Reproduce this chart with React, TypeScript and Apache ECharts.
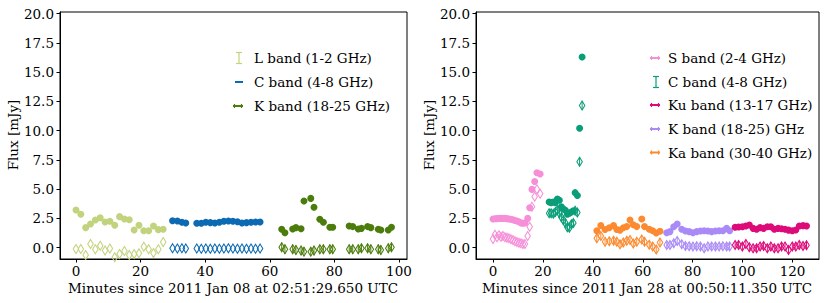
import React, { useEffect, useRef } from "react";
import * as echarts from "echarts";

// ---------- Left panel: 2011 Jan 08 ----------
const L_MIN = [0, 1.5, 3, 4.5, 6, 7.5, 9, 10.5, 12, 13.5, 15, 16.5, 18, 19.5, 21, 22.5, 24, 25.5, 27];
const L_FLUX = [3.22, 2.85, 1.71, 2.02, 2.36, 2.56, 2.19, 2.25, 1.91, 2.65, 2.45, 2.39, 1.51, 1.91, 1.45, 1.45, 1.85, 1.54, 1.57];
const L_FLUX_D = [-0.11, -0.11, -0.62, 0.32, -0.14, 0.17, -0.25, -0.08, -0.82, -0.54, -0.28, -0.62, -0.54, -0.48, 0.08, -0.14, -0.45, -0.14, 0.48];

const C_MIN = [29.9, 31.4, 32.8, 34.0, 37.4, 38.8, 40.2, 41.6, 43.0, 44.4, 45.8, 47.2, 48.6, 50.0, 51.4, 52.8, 54.2, 55.6, 57.0];
const C_FLUX = [2.3, 2.28, 2.17, 2.1, 2.08, 2.08, 2.17, 2.14, 2.11, 2.17, 2.25, 2.28, 2.25, 2.22, 2.11, 2.14, 2.17, 2.19, 2.19];
const C_FLUX_D = [-0.05, -0.08, -0.05, -0.08, -0.08, -0.1, -0.08, -0.1, -0.08, -0.1, -0.08, -0.05, -0.08, -0.1, -0.08, -0.1, -0.08, -0.1, -0.08];

const K_MIN = [63.7, 64.7, 67.1, 68.1, 69.7, 70.6, 72.7, 73.7, 75.5, 76.6, 78.6, 79.5, 84.6, 85.7, 87.4, 88.4, 90.3, 91.3, 93.6, 94.4, 96.7, 97.7];
const K_FLUX = [1.57, 1.28, 1.6, 1.71, 1.62, 3.98, 4.21, 3.45, 2.42, 2.17, 1.74, 1.74, 1.85, 1.8, 1.6, 1.65, 1.8, 1.71, 1.57, 1.51, 1.51, 1.74];
const K_FLUX_D = [0.03, -0.14, -0.14, -0.2, -0.25, -0.34, -0.34, -0.25, -0.14, -0.14, -0.14, -0.14, -0.14, -0.14, -0.14, -0.05, -0.05, -0.14, -0.14, -0.2, -0.05, 0.03];

// ---------- Right panel: 2011 Jan 28 ----------
const S_MIN = [0, 0.8, 1.6, 2.4, 3.2, 4.0, 4.8, 5.6, 6.4, 7.2, 8.0, 8.8, 9.6, 10.4, 11.2, 12.0, 12.8, 13.9, 14.7, 15.6, 16.7, 17.6, 18.9];
const S_FLUX = [2.45, 2.47, 2.48, 2.5, 2.5, 2.5, 2.52, 2.48, 2.45, 2.42, 2.38, 2.32, 2.28, 2.22, 2.12, 2.08, 2.1, 2.5, 3.41, 4.98, 5.66, 6.4, 6.29];
const S_FLUX_D = [0.74, 1.1, 0.89, 1.05, 0.94, 1.0, 0.89, 0.85, 0.8, 0.72, 0.65, 0.55, 0.48, 0.42, 0.37, 0.32, 0.32, 1.0, 1.79, 3.5, 4.35, 5.0, 4.6];

const CR_MIN = [22.5, 23.3, 24.2, 25.0, 25.8, 26.6, 27.4, 28.2, 29.0, 29.8, 30.6, 31.4, 32.2, 32.9, 33.8, 34.7, 35.7];
const CR_FLUX = [3.9, 3.85, 3.9, 3.85, 4.15, 4.05, 3.5, 3.3, 3.2, 2.85, 2.95, 3.05, 3.15, 4.7, 4.45, 10.2, 16.3];
const CR_FLUX_D = [2.95, 2.95, 2.9, 3.05, 3.2, 2.95, 2.6, 2.35, 2.1, 1.75, 1.7, 2.0, 2.1, 3.15, 3.0, 7.35, 12.15];

const KA_MIN = [41.6, 43.2, 44.9, 46.6, 48.3, 49.6, 50.9, 52.2, 53.6, 54.9, 56.2, 57.6, 59.6, 60.7, 62.6, 64.0, 65.4, 66.9];
const KA_FLUX = [1.45, 1.9, 1.55, 1.7, 1.9, 1.55, 1.5, 1.7, 1.8, 2.36, 1.95, 1.8, 2.45, 1.8, 1.57, 1.45, 1.25, 1.4];
const KA_FLUX_D = [0.8, 1.0, 0.5, 0.55, 0.6, 0.5, 0.3, 0.45, 0.6, 0.65, 0.35, 0.5, 0.7, 0.5, 0.25, 0.1, -0.15, 0.45];

const KP_MIN = [69.6, 70.9, 72.4, 73.8, 75.6, 77.1, 78.6, 80.1, 81.6, 83.1, 84.6, 86.1, 87.6, 89.1, 90.6, 92.1, 93.6, 94.8];
const KP_FLUX = [1.28, 1.37, 1.79, 2.02, 1.57, 1.42, 1.37, 1.28, 1.37, 1.42, 1.45, 1.42, 1.37, 1.42, 1.45, 1.45, 1.65, 1.45];
const KP_FLUX_D = [0.23, 0.23, 0.37, 0.57, 0.3, 0.15, 0.12, 0.09, 0.12, 0.09, -0.05, 0.09, 0.09, 0.09, 0.09, 0.12, 0.09, 0.1];

const KU_MIN = [97.0, 98.4, 99.9, 101.3, 102.7, 104.2, 105.6, 107.0, 108.4, 109.9, 111.3, 112.7, 114.2, 115.6, 117.0, 118.4, 119.9, 121.3, 122.7, 124.2, 125.6];
const KU_FLUX = [1.74, 1.76, 1.79, 1.85, 1.93, 1.65, 1.57, 1.71, 1.65, 1.79, 1.79, 1.57, 1.65, 1.62, 1.57, 1.5, 1.45, 1.51, 1.85, 1.88, 1.85];
const KU_FLUX_D = [0.23, 0.23, 0.09, 0.32, 0.03, -0.05, -0.05, 0.09, 0.15, -0.05, 0.09, -0.05, -0.05, 0.09, 0.09, -0.2, 0.09, 0.09, 0.23, 0.15, 0.2];

// ---------- axes ----------
const Y_TICKS = [0, 2.5, 5, 7.5, 10, 12.5, 15, 17.5, 20];
const X_TICKS_LEFT = [0, 20, 40, 60, 80, 100];
const X_TICKS_RIGHT = [0, 20, 40, 60, 80, 100, 120];
const X_LABEL_LEFT = "Minutes since 2011 Jan 08 at 02:51:29.650 UTC";
const X_LABEL_RIGHT = "Minutes since 2011 Jan 28 at 00:50:11.350 UTC";
const Y_LABEL = "Flux [mJy]";
const LEGEND_LEFT = ["L band (1-2 GHz)", "C band (4-8 GHz)", "K band (18-25 GHz)"];
const LEGEND_RIGHT = ["S band (2-4 GHz)", "C band (4-8 GHz)", "Ku band (13-17 GHz)", "K band (18-25) GHz", "Ka band (30-40 GHz)"];

const COL = {
  L: "#c1d37c",
  C: "#0b6ab2",
  K: "#4c7d0c",
  S: "#f68fd8",
  CR: "#0a9e78",
  KU: "#dd0a7a",
  KP: "#a98af6",
  KA: "#fb8a30",
};

const FONT = "DejaVu Serif";
const FS = 13.5;

export default function App() {
  const ref = useRef<HTMLDivElement>(null);
  useEffect(() => {
    if (!ref.current) return;
    const chart = echarts.init(ref.current, undefined, { renderer: "svg" });

    const zip = (a: number[], b: number[]) => a.map((v, i) => [v, b[i]]);
    const filled = (ai: number, mins: number[], vals: number[], color: string) => ({
      type: "scatter",
      xAxisIndex: ai,
      yAxisIndex: ai,
      data: zip(mins, vals),
      symbol: "circle",
      symbolSize: 7,
      itemStyle: { color, opacity: 1 },
      z: 3,
      silent: true,
    });
    const hollow = (ai: number, mins: number[], vals: number[], color: string) => ({
      type: "scatter",
      xAxisIndex: ai,
      yAxisIndex: ai,
      data: zip(mins, vals),
      symbol: "diamond",
      symbolSize: [5.5, 9],
      itemStyle: { color: "rgba(255,255,255,0)", borderColor: color, borderWidth: 1.1, opacity: 1 },
      z: 3,
      silent: true,
    });
    const errbar = (ai: number, mins: number[], vals: number[], color: string, err: number) => ({
      type: "custom",
      xAxisIndex: ai,
      yAxisIndex: ai,
      data: mins.map((m, i) => [m, vals[i] - err, vals[i] + err]),
      encode: { x: 0, y: [1, 2] },
      renderItem: (_p: any, api: any) => {
        const lo = api.coord([api.value(0), api.value(1)]);
        const hi = api.coord([api.value(0), api.value(2)]);
        return {
          type: "line",
          shape: { x1: lo[0], y1: lo[1], x2: hi[0], y2: hi[1] },
          style: { stroke: color, lineWidth: 1 },
        };
      },
      z: 2,
      silent: true,
    });

    const xAxis = (gi: number, min: number, max: number, ticks: number[]) => ({
      type: "value",
      gridIndex: gi,
      min,
      max,
      splitLine: { show: false },
      axisLine: { show: true, onZero: false, lineStyle: { color: "#000", width: 1 } },
      axisTick: { show: true, length: 3.5, customValues: ticks, lineStyle: { color: "#000" } },
      axisLabel: { customValues: ticks, color: "#000", fontFamily: FONT, fontSize: FS, margin: 5 },
    });
    const yAxis = (gi: number) => ({
      type: "value",
      gridIndex: gi,
      min: -0.97,
      max: 20.14,
      splitLine: { show: false },
      axisLine: { show: true, onZero: false, lineStyle: { color: "#000", width: 1 } },
      axisTick: { show: true, length: 3.5, customValues: Y_TICKS, lineStyle: { color: "#000" } },
      axisLabel: {
        customValues: Y_TICKS,
        color: "#000",
        fontFamily: FONT,
        fontSize: FS,
        margin: 6,
        formatter: (v: number) => v.toFixed(1),
      },
    });

    const txt = (x: number, y: number, text: string, align = "left", rot = 0) => ({
      type: "text",
      x,
      y,
      rotation: rot,
      silent: true,
      style: {
        text,
        fill: "#000",
        font: `${FS}px "${FONT}"`,
        textAlign: align,
        textVerticalAlign: "middle",
        align,
        verticalAlign: "middle",
      },
    });
    const ln = (x1: number, y1: number, x2: number, y2: number, color: string, w = 1.2) => ({
      type: "line",
      silent: true,
      shape: { x1, y1, x2, y2 },
      style: { stroke: color, lineWidth: w },
    });
    // I-shaped (vertical bar with caps)
    const iIcon = (cx: number, cy: number, color: string, h: number) => [
      ln(cx, cy - h / 2, cx, cy + h / 2, color),
      ln(cx - 3, cy - h / 2, cx + 3, cy - h / 2, color),
      ln(cx - 3, cy + h / 2, cx + 3, cy + h / 2, color),
    ];
    // horizontal bar with small caps
    const hIcon = (cx: number, cy: number, color: string) => [
      ln(cx - 5, cy, cx + 5, cy, color, 2),
      ln(cx - 3.5, cy - 2, cx - 3.5, cy + 2, color, 1.2),
      ln(cx + 3.5, cy - 2, cx + 3.5, cy + 2, color, 1.2),
    ];

    const graphics: any[] = [
      txt(233, 288, X_LABEL_LEFT, "center"),
      txt(647, 288, X_LABEL_RIGHT, "center"),
      txt(13, 135, Y_LABEL, "center", Math.PI / 2),
      txt(429, 135, Y_LABEL, "center", Math.PI / 2),
      // left legend
      ...iIcon(239, 58, COL.L, 11),
      ln(235, 82, 243, 82, COL.C, 2),
      ...hIcon(238, 106, COL.K),
      txt(254, 58, LEGEND_LEFT[0]),
      txt(254, 82, LEGEND_LEFT[1]),
      txt(254, 106, LEGEND_LEFT[2]),
      // right legend
      ...hIcon(655, 58, COL.S),
      ...iIcon(656, 82, COL.CR, 11),
      ...hIcon(655, 105, COL.KU),
      ...hIcon(655, 129, COL.KP),
      ...hIcon(655, 152.5, COL.KA),
      txt(668, 58, LEGEND_RIGHT[0]),
      txt(668, 82, LEGEND_RIGHT[1]),
      txt(668, 105, LEGEND_RIGHT[2]),
      txt(668, 129, LEGEND_RIGHT[3]),
      txt(668, 152.5, LEGEND_RIGHT[4]),
    ];

    chart.setOption({
      animation: false,
      backgroundColor: "#fff",
      textStyle: { fontFamily: FONT },
      grid: [
        { left: 60, top: 12, width: 347, height: 247, show: true, borderColor: "#000", borderWidth: 1, backgroundColor: "transparent" },
        { left: 476, top: 12, width: 343, height: 247, show: true, borderColor: "#000", borderWidth: 1, backgroundColor: "transparent" },
      ],
      xAxis: [xAxis(0, -4.95, 102.5, X_TICKS_LEFT), xAxis(1, -6.8, 130.6, X_TICKS_RIGHT)],
      yAxis: [yAxis(0), yAxis(1)],
      series: [
        hollow(0, L_MIN, L_FLUX_D, COL.L),
        filled(0, L_MIN, L_FLUX, COL.L),
        hollow(0, C_MIN, C_FLUX_D, COL.C),
        filled(0, C_MIN, C_FLUX, COL.C),
        errbar(0, K_MIN, K_FLUX_D, COL.K, 0.4),
        hollow(0, K_MIN, K_FLUX_D, COL.K),
        filled(0, K_MIN, K_FLUX, COL.K),

        hollow(1, S_MIN, S_FLUX_D, COL.S),
        filled(1, S_MIN, S_FLUX, COL.S),
        errbar(1, CR_MIN, CR_FLUX_D, COL.CR, 0.35),
        hollow(1, CR_MIN, CR_FLUX_D, COL.CR),
        filled(1, CR_MIN, CR_FLUX, COL.CR),
        errbar(1, KA_MIN, KA_FLUX_D, COL.KA, 0.35),
        hollow(1, KA_MIN, KA_FLUX_D, COL.KA),
        filled(1, KA_MIN, KA_FLUX, COL.KA),
        errbar(1, KP_MIN, KP_FLUX_D, COL.KP, 0.35),
        hollow(1, KP_MIN, KP_FLUX_D, COL.KP),
        filled(1, KP_MIN, KP_FLUX, COL.KP),
        errbar(1, KU_MIN, KU_FLUX_D, COL.KU, 0.35),
        hollow(1, KU_MIN, KU_FLUX_D, COL.KU),
        filled(1, KU_MIN, KU_FLUX, COL.KU),
      ],
      graphic: graphics,
    });
    return () => chart.dispose();
  }, []);
  return (
    <div
      ref={ref}
      style={{ position: "fixed", left: 0, top: 0, width: 830, height: 303, background: "#fff" }}
    />
  );
}
